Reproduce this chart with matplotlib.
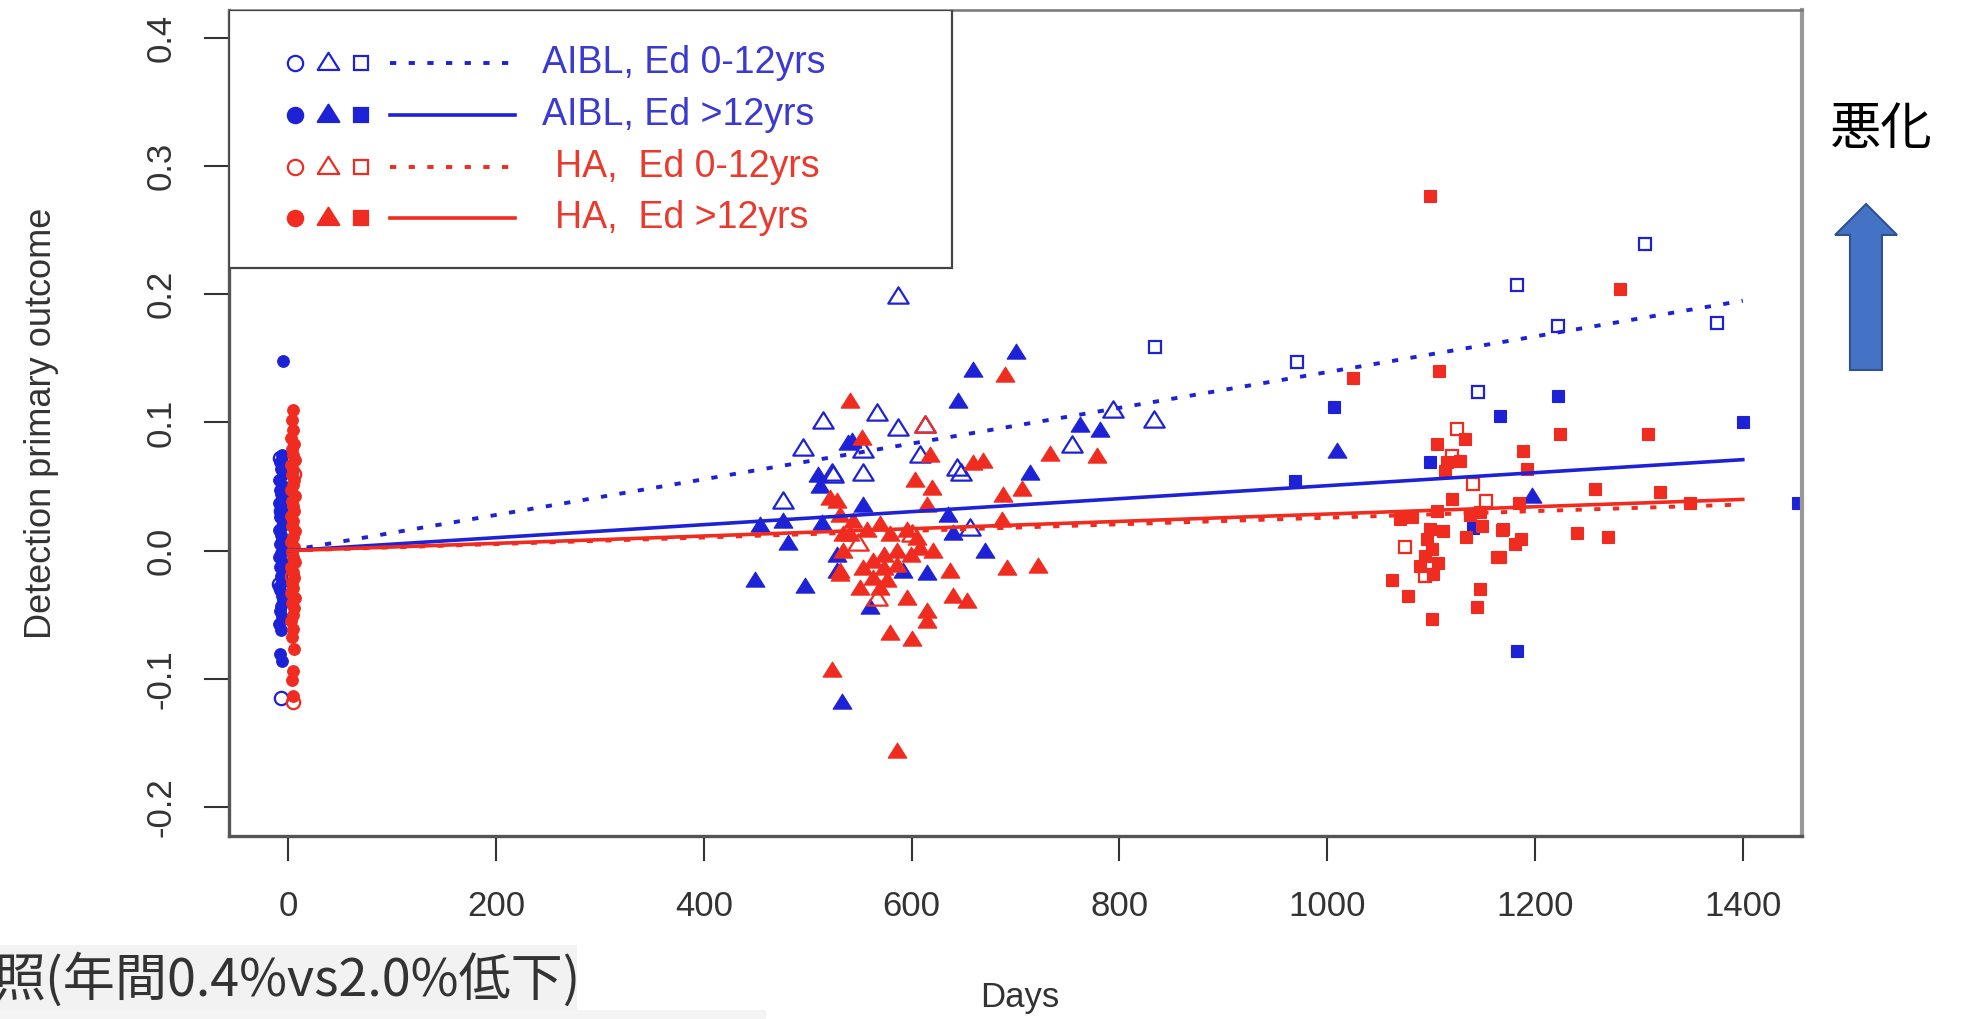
import matplotlib
matplotlib.use("Agg")
import matplotlib.pyplot as plt
import matplotlib.patches as mpatches
import matplotlib.path as mpath
from matplotlib.ticker import FuncFormatter

plt.rcParams.update({"font.family": ["Liberation Sans", "DejaVu Sans"],
                     "axes.unicode_minus": False})

BLUE = "#1E22D6"
RED = "#F02C20"
TXT = "#333333"

# ---- data (day, outcome) --------------------------------------------------
# baseline visit (circles)
aibl_lo_bl = [(-8, 0.072), (-7, 0.031), (-9, -0.026), (-7, -0.115)]
aibl_hi_bl = [(-5, 0.148), (-6, 0.075), (-8, 0.069), (-7, 0.064), (-5, 0.060), (-9, 0.055),
              (-6, 0.051), (-8, 0.047), (-7, 0.044), (-5, 0.040), (-9, 0.037), (-6, 0.033),
              (-7, 0.030), (-8, 0.026), (-5, 0.023), (-6, 0.019), (-9, 0.016), (-7, 0.012),
              (-6, 0.009), (-8, 0.005), (-5, 0.002), (-7, -0.002), (-9, -0.005), (-6, -0.009),
              (-8, -0.013), (-5, -0.016), (-7, -0.020), (-6, -0.024), (-9, -0.028), (-8, -0.031),
              (-6, -0.035), (-5, -0.039), (-7, -0.043), (-8, -0.047), (-6, -0.052), (-9, -0.057),
              (-7, -0.062), (-8, -0.081), (-6, -0.086)]
ha_lo_bl = [(6, 0.060), (4, -0.020), (5, -0.118)]
ha_hi_bl = [(5, 0.110), (4, 0.102), (5, 0.094), (3, 0.088), (6, 0.083), (4, 0.079), (5, 0.075),
            (7, 0.071), (3, 0.067), (5, 0.063), (4, 0.059), (6, 0.055), (5, 0.051), (3, 0.047),
            (7, 0.043), (4, 0.039), (5, 0.035), (6, 0.031), (3, 0.027), (5, 0.023), (4, 0.019),
            (7, 0.015), (5, 0.011), (3, 0.007), (6, 0.003), (4, -0.001), (5, -0.005), (7, -0.009),
            (3, -0.013), (5, -0.017), (6, -0.021), (4, -0.025), (5, -0.029), (3, -0.033),
            (7, -0.037), (4, -0.041), (6, -0.045), (5, -0.050), (3, -0.055), (5, -0.061),
            (4, -0.067), (6, -0.077), (5, -0.094), (4, -0.101), (5, -0.113)]

# 18 month visit (triangles)
aibl_lo_m18 = [(515, 0.100), (495, 0.079), (523, 0.060), (476, 0.038), (587, 0.198),
               (567, 0.107), (587, 0.095), (613, 0.097), (553, 0.078), (608, 0.074),
               (644, 0.064), (648, 0.060), (553, 0.060), (524, 0.058), (754, 0.082),
               (794, 0.109), (833, 0.101), (656, 0.017)]
aibl_hi_m18 = [(510, 0.058), (512, 0.050), (454, 0.019), (476, 0.022), (514, 0.021),
               (481, 0.005), (449, -0.024), (497, -0.028), (528, -0.004), (528, -0.017),
               (533, -0.119), (539, 0.083), (700, 0.154), (659, 0.140), (645, 0.116),
               (543, 0.085), (714, 0.060), (762, 0.097), (781, 0.093), (553, 0.035),
               (635, 0.027), (640, 0.013), (671, -0.001), (615, -0.018), (560, -0.045),
               (592, -0.017), (1009, 0.077), (1197, 0.042)]
ha_lo_m18 = [(613, 0.097), (567, -0.038), (600, 0.012), (548, 0.005)]
ha_hi_m18 = [(528, 0.038), (534, 0.012), (534, -0.001), (531, -0.017), (523, -0.094),
             (541, 0.116), (690, 0.136), (552, 0.087), (618, 0.074), (659, 0.068),
             (669, 0.069), (603, 0.054), (620, 0.048), (688, 0.043), (706, 0.047),
             (733, 0.075), (778, 0.073), (615, 0.035), (687, 0.023), (692, -0.014),
             (722, -0.013), (521, 0.040), (531, 0.027), (544, 0.022), (557, 0.015),
             (570, 0.020), (579, 0.012), (596, 0.015), (605, 0.009), (608, 0.001),
             (621, -0.001), (599, -0.004), (586, -0.001), (573, -0.004), (563, -0.009),
             (553, -0.014), (573, -0.014), (586, -0.012), (541, 0.012), (531, -0.019),
             (563, -0.022), (576, -0.024), (550, -0.030), (570, -0.030), (637, -0.017),
             (596, -0.038), (640, -0.036), (653, -0.040), (615, -0.048), (615, -0.056),
             (579, -0.065), (600, -0.070), (586, -0.157)]

# 36 month visit (squares)
aibl_lo_m36 = [(834, 0.159), (971, 0.147), (1145, 0.124), (1183, 0.207), (1306, 0.239),
               (1375, 0.178), (1222, 0.175)]
aibl_hi_m36 = [(1007, 0.112), (1166, 0.105), (969, 0.054), (1099, 0.069), (1140, 0.018),
               (1222, 0.121), (1400, 0.100), (1183, -0.078), (1453, 0.037)]
ha_lo_m36 = [(1125, 0.095), (1120, 0.074), (1140, 0.052), (1153, 0.039), (1075, 0.003),
             (1094, -0.020)]
ha_hi_m36 = [(1099, 0.277), (1025, 0.135), (1108, 0.140), (1106, 0.083), (1133, 0.087),
             (1115, 0.069), (1128, 0.070), (1113, 0.062), (1120, 0.040), (1106, 0.031),
             (1082, 0.026), (1070, 0.025), (1137, 0.028), (1147, 0.030), (1149, 0.019),
             (1099, 0.017), (1111, 0.015), (1096, 0.009), (1101, 0.001), (1134, 0.011),
             (1094, -0.004), (1107, -0.010), (1089, -0.012), (1102, -0.018), (1062, -0.023),
             (1078, -0.035), (1101, -0.053), (1147, -0.030), (1144, -0.044), (1168, 0.016),
             (1163, -0.005), (1282, 0.204), (1224, 0.091), (1309, 0.091), (1188, 0.078),
             (1192, 0.064), (1258, 0.048), (1320, 0.046), (1185, 0.037), (1349, 0.037),
             (1169, 0.017), (1240, 0.014), (1270, 0.011), (1181, 0.005), (1187, 0.009),
             (1166, -0.005)]

# fitted lines (start, end)
fit_x = [0, 1400]
fit_aibl_lo = [0.0, 0.195]
fit_aibl_hi = [0.0, 0.071]
fit_ha_lo = [0.0, 0.036]
fit_ha_hi = [0.0, 0.040]

xticks = [0, 200, 400, 600, 800, 1000, 1200, 1400]
yticks = [-0.2, -0.1, 0.0, 0.1, 0.2, 0.3, 0.4]
leg_labels = ["AIBL, Ed 0-12yrs", "AIBL, Ed >12yrs", "HA,  Ed 0-12yrs", "HA,  Ed >12yrs"]

# ---- figure ---------------------------------------------------------------
TRI = mpath.Path([(-1, -0.6), (1, -0.6), (0, 1.0), (-1, -0.6)], closed=True)
DOT = (1.6, 3.2)

fig = plt.figure(figsize=(19.62, 10.19), dpi=100)
ax = fig.add_axes([229/1962, 1 - 836/1019, (1802 - 229)/1962, (836 - 10)/1019])


def pts(data, marker, ms, color, filled):
    x = [p[0] for p in data]
    y = [p[1] for p in data]
    ax.plot(x, y, ls="none", marker=marker, ms=ms if filled else ms + 1.2, mec=color,
            mfc=color if filled else "none", mew=0.8 if filled else 1.6)


for grp, c, f in [((aibl_lo_bl, aibl_lo_m18, aibl_lo_m36), BLUE, False),
                  ((aibl_hi_bl, aibl_hi_m18, aibl_hi_m36), BLUE, True),
                  ((ha_lo_bl, ha_lo_m18, ha_lo_m36), RED, False),
                  ((ha_hi_bl, ha_hi_m18, ha_hi_m36), RED, True)]:
    pts(grp[0], "o", 8.4, c, f)
    pts(grp[1], TRI, 13.5, c, f)
    pts(grp[2], "s", 8, c, f)

ax.plot(fit_x, fit_aibl_lo, color=BLUE, lw=2.8, dashes=DOT)
ax.plot(fit_x, fit_aibl_hi, color=BLUE, lw=2.6)
ax.plot(fit_x, fit_ha_lo, color=RED, lw=2.8, dashes=DOT)
ax.plot(fit_x, fit_ha_hi, color=RED, lw=2.6)

ax.set_xlim(-57, 1457)
ax.set_ylim(-0.2226, 0.4218)
ax.set_xticks(xticks)
ax.set_yticks(yticks)
ax.yaxis.set_major_formatter(FuncFormatter(lambda v, p: f"{v:.1f}"))
ax.tick_params(length=18, width=1.5, labelsize=25, colors=TXT)
ax.tick_params(axis="x", pad=21)
ax.tick_params(axis="y", pad=19, labelrotation=90)
for lab in ax.get_yticklabels():
    lab.set_va("center")
for s in ["left", "bottom"]:
    ax.spines[s].set_linewidth(2.4)
    ax.spines[s].set_color("#555555")
ax.spines["top"].set_linewidth(1.8)
ax.spines["top"].set_color("#777777")
ax.spines["right"].set_linewidth(3)
ax.spines["right"].set_color("#999999")

ax.set_ylabel("Detection primary outcome", fontsize=26, color=TXT)
ax.yaxis.set_label_coords(-0.108, 0.5)
ax.set_xlabel("Days", fontsize=25, color=TXT)
ax.xaxis.set_label_coords(0.503, -0.176)

# ---- legend (drawn by hand, R style) -------------------------------------
ax.add_patch(mpatches.Rectangle((0, 0.688), 0.4596, 0.312, transform=ax.transAxes,
                                fc="white", ec="#444444", lw=1.6, zorder=5))
rows = [0.936, 0.873, 0.810, 0.748]
for i, (lab, y) in enumerate(zip(leg_labels, rows)):
    c = BLUE if i < 2 else RED
    filled = i % 2 == 1
    for mx, mk, ms in [(0.042, "o", 11), (0.0627, TRI, 15.5), (0.0837, "s", 10.5)]:
        ax.plot([mx], [y], transform=ax.transAxes, ls="none", marker=mk, ms=ms, mec=c,
                mfc=c if filled else "none", mew=1.6, zorder=6, clip_on=False)
    if filled:
        ax.plot([0.1022, 0.1816], [y, y], transform=ax.transAxes, color=c, lw=2.6, zorder=6)
    else:
        ax.plot([0.1022, 0.1816], [y, y], transform=ax.transAxes, color=c, lw=2.8,
                dashes=DOT, zorder=6)
    tx = 0.199 if i < 2 else 0.207
    ax.text(tx, y, lab, transform=ax.transAxes, fontsize=27, va="center", ha="left",
            color="#3A3AD0" if i < 2 else "#EA3A2E", zorder=7)

# ---- annotations outside the plot ----------------------------------------
fig.text(1881/1962, 1 - 129/1019, "悪化", fontsize=37, ha="center", va="center",
         family=["Noto Sans CJK JP", "DejaVu Sans"], color="black")
arrow = [(0.9511, 0.7998), (0.9353, 0.7694), (0.9429, 0.7694), (0.9429, 0.6369),
         (0.9592, 0.6369), (0.9592, 0.7694), (0.9669, 0.7694)]
fig.patches.append(mpatches.Polygon(arrow, closed=True, transform=fig.transFigure,
                                    fc="#4472C4", ec="#2F528F", lw=1.5))

fig.patches.append(mpatches.Rectangle((0, 1 - 1010/1019), 577/1962, 65/1019,
                                      transform=fig.transFigure, fc="#F2F2F2", ec="none"))
fig.patches.append(mpatches.Rectangle((0, 0), 766/1962, 9/1019,
                                      transform=fig.transFigure, fc="#F4F4F4", ec="none"))
fig.text(-6/1962, 1 - 996/1019, "照(年間0.4%vs2.0%低下)", fontsize=37.5, ha="left",
         va="baseline", family=["Noto Sans CJK JP", "DejaVu Sans"], color="#333333")

fig.savefig("out.png", dpi=100, facecolor="white")
